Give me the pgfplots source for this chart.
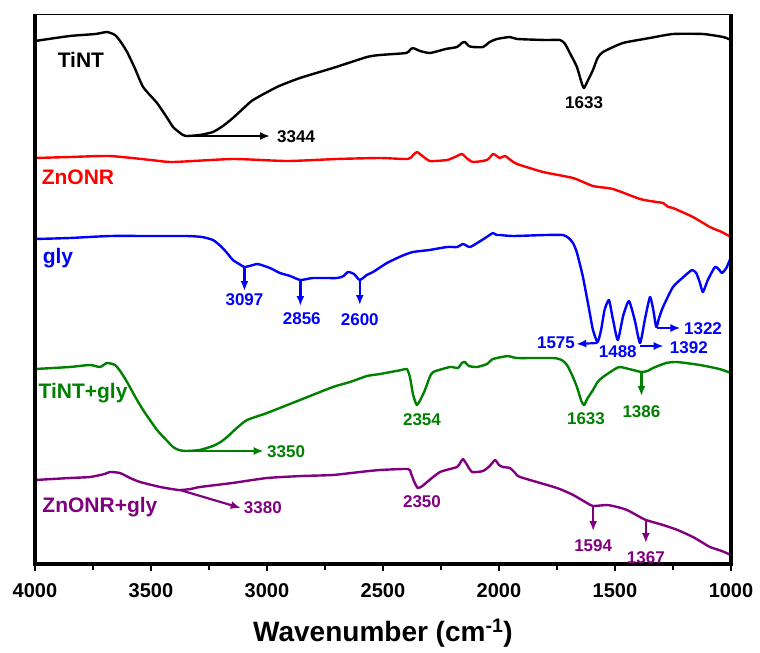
\documentclass[border=0pt]{standalone}
\usepackage{pgfplots}
\pgfplotsset{compat=1.18}
\usepackage{fontspec}
\setmainfont{Liberation Sans}
\usetikzlibrary{arrows.meta}
\definecolor{cgreen}{RGB}{0,128,0}
\definecolor{cpurple}{RGB}{128,0,128}
\newcommand\nfont{\fontsize{17bp}{17bp}\selectfont\bfseries}
\newcommand\lfont{\fontsize{21bp}{21bp}\selectfont\bfseries}
\tikzset{nf/.style={font=\nfont}, lf/.style={font=\lfont}}
\begin{document}
\begin{tikzpicture}
\begin{axis}[
 at={(0,0)}, anchor=south west,
 width=696bp, height=550bp, scale only axis,
 xmin=1000, xmax=4000, x dir=reverse,
 ymin=14, ymax=564, y dir=reverse,
 ytick=\empty,
 xtick={1000,1500,...,4000},
 minor xtick={1250,1750,...,3750},
 tick align=outside, xtick pos=bottom,
 major tick length=7bp, minor tick length=6bp,
 tick style={line width=1.6bp, black},
 axis line style={line width=1bp},
 /pgf/number format/assume math mode=true,
 /pgf/number format/set thousands separator={},
 xticklabel style={font=\fontsize{20bp}{20bp}\selectfont\bfseries, yshift=-9bp},
 xlabel={Wavenumber (cm\textsuperscript{-1})},
 xlabel style={font=\fontsize{28bp}{28bp}\selectfont\bfseries, yshift=-14bp},
 clip=false,
 every axis plot/.append style={line width=2.4bp, line join=round, smooth, tension=0.35},
 >={Latex[length=10bp,width=8bp]},
]
% TiNT
\addplot[black] coordinates {
(4000,41) (3850,36) (3740,34) (3690,32) (3655,35) (3630,42) (3603,52) (3570,68) (3534,87) (3474,103) (3430,118) (3405,127) (3380,132) (3362,135) (3345,136)
(3290,135) (3233,132) (3190,126) (3147,118) (3100,108) (3060,100) (2957,87) (2858,78) (2716,68) (2569,57) (2513,55) (2400,53) (2384,50) (2371,48)
(2340,51) (2297,53) (2230,49) (2181,47) (2160,43) (2147,42) (2130,46) (2112,47) (2069,47) (2040,42) (2009,39) (1953,37) (1922,39) (1800,40) (1737,40) (1715,44)
(1690,55) (1664,67) (1645,82) (1634,88) (1620,82) (1595,70) (1575,58) (1552,52) (1466,43) (1350,38) (1250,34) (1121,34) (1034,37) (1000,40)};
% ZnONR
\addplot[red] coordinates {
(4000,158) (3850,157) (3677,156) (3500,160) (3405,162) (3147,159) (2914,161) (2700,159) (2513,158) (2392,159) (2370,155) (2353,152) (2330,156) (2297,161)
(2224,160) (2190,157) (2160,154) (2140,158) (2112,162) (2052,160) (2026,154) (2010,156) (1996,158) (1974,156) (1950,160) (1922,164) (1810,172)
(1681,178) (1595,186) (1509,189) (1392,199) (1320,202) (1293,203) (1270,207) (1250,208) (1164,217) (1091,227) (1040,232) (1000,237)};
% gly
\addplot[blue] coordinates {
(4000,239) (3850,238) (3677,236) (3500,236) (3345,236) (3280,237) (3233,240) (3200,246) (3172,253) (3147,260) (3120,264) (3097,267) (3060,265) (3039,264) (2987,268)
(2944,273) (2900,276) (2856,280) (2802,278) (2698,278) (2670,276) (2651,272) (2625,274) (2600,280) (2570,275) (2543,272) (2483,263) (2420,256) (2371,252)
(2300,250) (2224,247) (2180,247) (2155,244) (2125,247) (2080,241) (2040,235) (2026,233) (2010,235) (1996,235) (1940,236) (1800,235) (1724,235) (1700,238) (1681,243) (1665,252)
(1640,275) (1615,305) (1595,330) (1575,342) (1560,330) (1545,310) (1526,300) (1510,318) (1488,340) (1465,316) (1440,301) (1415,320) (1392,343) (1370,318) (1349,297)
(1335,310) (1322,327) (1310,318) (1293,307) (1250,287) (1200,276) (1168,270) (1150,273) (1135,282) (1121,292) (1100,280) (1069,267) (1050,270) (1039,273) (1020,268) (1000,257)};
% TiNT+gly
\addplot[cgreen] coordinates {
(4000,369) (3850,367) (3763,365) (3720,367) (3690,363) (3655,365) (3630,372) (3603,382) (3570,396) (3534,410) (3474,430) (3430,441) (3405,447) (3380,450)
(3350,451) (3290,450) (3233,446) (3200,442) (3172,437) (3130,428) (3086,420) (3000,413) (2858,400) (2716,387) (2642,382) (2569,376)
(2513,374) (2420,370) (2397,369) (2384,377) (2370,395) (2354,405) (2335,398) (2319,390) (2300,378) (2284,372) (2211,367) (2177,368) (2160,363) (2147,362) (2130,366)
(2095,367) (2052,364) (2026,359) (1961,356) (1922,358) (1767,358) (1730,360) (1707,365) (1685,375) (1664,387) (1645,401) (1633,405) (1620,399)
(1595,390) (1575,382) (1552,377) (1500,369) (1478,367) (1422,370) (1386,372) (1360,371) (1336,368) (1280,363) (1233,362) (1134,365) (1050,369) (1000,373)};
% ZnONR+gly
\addplot[cpurple] coordinates {
(4000,480) (3850,478) (3763,477) (3700,474) (3677,472) (3634,473) (3590,478) (3547,482) (3460,487) (3380,490) (3330,489) (3289,487) (3150,483) (3000,478)
(2850,476) (2716,475) (2600,472) (2513,470) (2392,469) (2380,473) (2365,482) (2350,488) (2330,486) (2310,482) (2254,472) (2181,467) (2165,462) (2155,459) (2140,464)
(2116,472) (2069,471) (2040,466) (2017,460) (2000,465) (1983,467) (1953,468) (1930,473) (1909,477) (1750,488) (1680,495) (1621,503) (1594,506)
(1534,505) (1490,507) (1448,510) (1400,516) (1367,520) (1293,525) (1230,530) (1164,537) (1120,543) (1091,547) (1040,551) (1000,555)};
% thick frame
\draw[line width=3.6bp] (axis cs:1000,14) -- (axis cs:1000,564) -- (axis cs:4000,564) -- (axis cs:4000,14);
\coordinate (BL) at (axis cs:4000,564);
% labels
\tikzset{annot/.style={->, line width=2.2bp}}
\node[lf] at (axis cs:3802,60) {TiNT};
\draw[annot] (axis cs:3315,136) -- (axis cs:2987,136);
\node[nf, anchor=west, inner sep=0] at (axis cs:2957,137) {3344};
\node[nf] at (axis cs:1633,103) {1633};
\node[lf, red] at (axis cs:3815,177) {ZnONR};
\begin{scope}[blue]
\node[lf] at (axis cs:3901,258) {gly};
\draw[annot] (axis cs:3097,267) -- (axis cs:3097,291);
\node[nf] at (axis cs:3097,300) {3097};
\draw[annot] (axis cs:2856,280) -- (axis cs:2856,306);
\node[nf] at (axis cs:2850,319) {2856};
\draw[annot] (axis cs:2600,280) -- (axis cs:2600,305);
\node[nf] at (axis cs:2600,320) {2600};
\draw[annot] (axis cs:1575,343) -- (axis cs:1667,344);
\node[nf, anchor=east, inner sep=0] at (axis cs:1672,343) {1575};
\node[nf] at (axis cs:1488,352) {1488};
\draw[annot] (axis cs:1392,346) -- (axis cs:1290,346);
\node[nf, anchor=west, inner sep=0] at (axis cs:1264,348) {1392};
\draw[annot] (axis cs:1320,328) -- (axis cs:1218,328);
\node[nf, anchor=west, inner sep=0] at (axis cs:1203,329) {1322};
\end{scope}
\begin{scope}[cgreen]
\node[lf] at (axis cs:3793,393) {TiNT+gly};
\draw[annot] (axis cs:3341,451) -- (axis cs:3014,451);
\node[nf, anchor=west, inner sep=0] at (axis cs:3000,452) {3350};
\node[nf] at (axis cs:2332,420) {2354};
\node[nf] at (axis cs:1625,419) {1633};
\draw[annot] (axis cs:1386,372) -- (axis cs:1386,396);
\node[nf] at (axis cs:1386,412) {1386};
\end{scope}
\begin{scope}[cpurple]
\node[lf] at (axis cs:3720,507) {ZnONR+gly};
\draw[annot] (axis cs:3375,490) -- (axis cs:3113,508);
\node[nf, anchor=west, inner sep=0] at (axis cs:3100,508) {3380};
\node[nf] at (axis cs:2332,502) {2350};
\draw[annot] (axis cs:1594,506) -- (axis cs:1594,531);
\node[nf] at (axis cs:1594,546) {1594};
\draw[annot] (axis cs:1367,520) -- (axis cs:1367,543);
\node[nf] at (axis cs:1367,558) {1367};
\end{scope}
\end{axis}
\pgfresetboundingbox
\path[use as bounding box] (BL) ++(-35bp,-89bp) rectangle ++(760bp,653bp);
\end{tikzpicture}
\end{document}
